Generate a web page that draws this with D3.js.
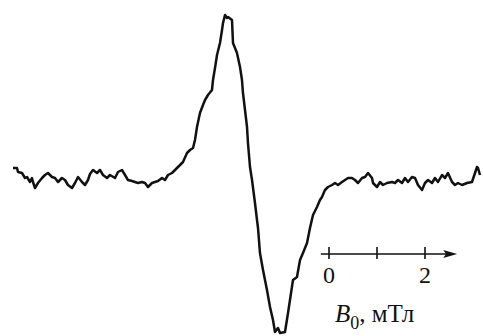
<!DOCTYPE html>
<html>
<head>
<meta charset="utf-8">
<script src="https://cdn.jsdelivr.net/npm/d3@7"></script>
<style>
  body { margin: 0; background: #fff; }
  svg { display: block; }
  text { font-family: "Liberation Serif", "Times New Roman", serif; fill: #111; }
</style>
</head>
<body>
<svg id="chart" width="483" height="336"></svg>
<script>
// magnetic field, mT
var field = [
  -6.583, -6.5, -6.479, -6.396, -6.333, -6.292, -6.229, -6.188, -6.167, -6.125,
  -6.063, -5.979, -5.917, -5.854, -5.771, -5.708, -5.646, -5.563, -5.5, -5.438,
  -5.354, -5.292, -5.229, -5.146, -5.083, -5.021, -4.979, -4.917, -4.833, -4.771,
  -4.708, -4.625, -4.563, -4.458, -4.396, -4.313, -4.25, -4.188, -4.104, -4.042,
  -3.979, -3.896, -3.833, -3.771, -3.688, -3.625, -3.563, -3.479, -3.417, -3.354,
  -3.271, -3.208, -3.146, -3.083, -3.042, -2.958, -2.896, -2.833, -2.792, -2.75,
  -2.688, -2.625, -2.583, -2.521, -2.438, -2.417, -2.375, -2.333, -2.271, -2.229,
  -2.208, -2.167, -2.125, -2.104, -2.021, -2.0, -1.917, -1.854, -1.813, -1.792,
  -1.75, -1.708, -1.688, -1.646, -1.604, -1.542, -1.5, -1.479, -1.438, -1.375,
  -1.292, -1.229, -1.167, -1.125, -1.063, -1.021, -0.917, -0.854, -0.813, -0.75,
  -0.667, -0.604, -0.542, -0.458, -0.396, -0.333, -0.25, -0.188, -0.146, -0.083,
  -0.021, 0.063, 0.125, 0.188, 0.271, 0.333, 0.396, 0.479, 0.542, 0.604,
  0.688, 0.75, 0.813, 0.896, 0.917, 1.0, 1.063, 1.125, 1.208, 1.313,
  1.375, 1.438, 1.521, 1.583, 1.646, 1.729, 1.792, 1.854, 1.938, 2.0,
  2.063, 2.146, 2.208, 2.271, 2.354, 2.417, 2.479, 2.563, 2.625, 2.688,
  2.771, 2.875, 2.979, 3.042, 3.083, 3.104, 3.146
];

// EPR signal, arb. units
var signal = [
  7.2, 7.2, 4.8, 4.2, 1.2, 1.8, -1.2, 1.2, -1.2, -4.8,
  -1.8, 1.2, 3.0, 4.2, 1.8, 1.2, -1.2, 1.2, 0, -3.0,
  -4.8, -1.8, 1.8, -1.2, -3.0, 0, 3.6, 6.0, 4.2, 6.0,
  3.0, 1.2, 3.0, 1.2, 4.8, 6.0, 3.0, 0, -0.6, -1.2,
  -1.8, -1.2, -1.8, -4.2, -1.8, -1.2, -0.6, 1.2, 0, 3.0,
  4.2, 6.0, 7.8, 9.6, 10.8, 16.2, 18.0, 19.2, 24.0, 31.8,
  40.2, 45.0, 48.0, 51.0, 54.0, 60.0, 67.2, 75.0, 82.2, 90.0,
  94.2, 99.0, 97.2, 97.8, 96.0, 82.2, 76.2, 67.8, 60.0, 52.2,
  42.0, 31.8, 22.2, 7.8, 0, -13.8, -24.0, -28.8, -43.8, -54.0,
  -66.0, -76.2, -84.0, -91.2, -88.8, -91.8, -91.2, -79.8, -72.0, -60.0,
  -58.2, -48.0, -43.8, -37.8, -28.8, -21.0, -16.2, -12.0, -10.2, -6.0,
  -4.2, -3.0, -1.8, -3.0, -1.2, 0, 1.2, 1.2, 0, -1.8,
  1.2, 1.8, 4.2, 1.2, -1.8, -4.2, -1.2, -3.0, -1.8, -1.2,
  -1.8, 0, -1.8, 1.2, -1.2, 1.8, 1.2, -3.0, -6.0, -1.8,
  0, -1.8, 1.2, -1.2, 3.0, 1.2, 4.2, -1.2, -3.0, -1.8,
  -3.0, -1.8, -1.2, 4.2, 7.8, 7.2, 3.0
];

// scale bar
var barTicks = [0, 1, 2];
var barLabels = ["0", "", "2"];
var barStart = -0.17, barEnd = 2.67;

var svg = d3.select("#chart");

var x = d3.scaleLinear().domain([0, 2]).range([329, 425]);
var y = d3.scaleLinear().domain([0, 99]).range([180, 15]);

var data = field.map(function(b, i) { return [b, signal[i]]; });

var line = d3.line()
    .x(function(d) { return x(d[0]); })
    .y(function(d) { return y(d[1]); });

svg.append("path")
    .datum(data)
    .attr("d", line)
    .attr("fill", "none")
    .attr("stroke", "#111")
    .attr("stroke-width", 2.5)
    .attr("stroke-linejoin", "round");

// field scale bar with arrow
var barY = 254;
var bar = svg.append("g");

bar.append("line")
    .attr("x1", x(barStart)).attr("x2", x(barEnd) - 8)
    .attr("y1", barY).attr("y2", barY)
    .attr("stroke", "#111").attr("stroke-width", 1.6);

bar.append("path")
    .attr("d", "M" + x(barEnd) + "," + barY +
               "L" + (x(barEnd) - 14) + "," + (barY - 4) +
               "L" + (x(barEnd) - 11) + "," + barY +
               "L" + (x(barEnd) - 14) + "," + (barY + 4) + "Z")
    .attr("fill", "#111");

bar.selectAll(".tick")
    .data(barTicks)
    .enter().append("line")
    .attr("class", "tick")
    .attr("x1", function(d) { return x(d); })
    .attr("x2", function(d) { return x(d); })
    .attr("y1", barY - 7).attr("y2", barY + 5)
    .attr("stroke", "#111").attr("stroke-width", 1.6);

bar.selectAll(".lbl")
    .data(barTicks)
    .enter().append("text")
    .attr("class", "lbl")
    .attr("x", function(d) { return x(d); })
    .attr("y", 283)
    .attr("text-anchor", "middle")
    .style("font-size", "24px")
    .text(function(d, i) { return barLabels[i]; });

var title = bar.append("text")
    .attr("x", 335)
    .attr("y", 322)
    .style("font-size", "25px");
title.append("tspan").style("font-style", "italic").text("B");
title.append("tspan").attr("dy", 7).style("font-size", "18px").text("0");
title.append("tspan").attr("dy", -7).text(", мТл");
</script>
</body>
</html>
